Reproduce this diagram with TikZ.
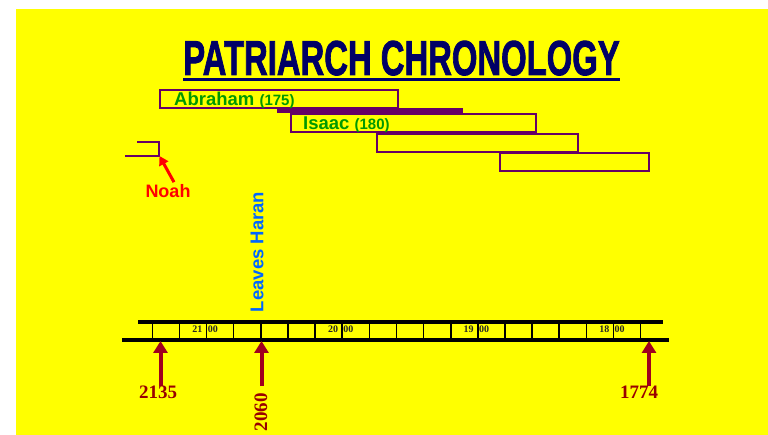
\documentclass[tikz,border=0pt]{standalone}
\usepackage{fontspec}
\setmainfont{Liberation Serif}
\setsansfont{Liberation Sans}
\newfontfamily\titlefont[FakeBold=2]{Liberation Sans Bold}
\usetikzlibrary{arrows.meta}
\definecolor{bgyellow}{RGB}{255,255,0}
\definecolor{navyt}{RGB}{0,0,102}
\definecolor{boxpurple}{RGB}{102,0,102}
\definecolor{namegreen}{RGB}{0,153,0}
\definecolor{arrowred}{RGB}{160,0,30}
\definecolor{yearred}{RGB}{153,0,0}
\definecolor{haranblue}{RGB}{0,102,255}
\tikzset{
  lifebox/.style={draw=boxpurple, line width=2.5pt},
  pname/.style={text=namegreen, font=\sffamily\bfseries\fontsize{18.5}{18.5}\selectfont, inner sep=0pt, anchor=base west},
  tickline/.style={line width=1.6pt, black},
  barline/.style={line width=4pt, black},
  decade/.style={font=\rmfamily\bfseries\fontsize{10}{10}\selectfont, text=black!85, inner sep=0pt},
  yeararrow/.style={arrowred, line width=4pt, -{Triangle[width=14pt,length=12pt]}},
  yearlbl/.style={font=\rmfamily\bfseries\fontsize{19}{19}\selectfont, text=yearred, inner sep=0pt}
}
\begin{document}
\begin{tikzpicture}[x=1pt,y=-1pt]
\useasboundingbox (0,0) rectangle (768,435);
\fill[bgyellow] (16,9) rectangle (768,435);
% title
\node[inner sep=0pt, anchor=base, text=navyt] (title) at (401.5,75)
  {\scalebox{0.67}[1]{\titlefont\fontsize{49}{49}\selectfont PATRIARCH CHRONOLOGY}};
\draw[navyt, line width=2.5pt] ([yshift=-4.5pt]title.base west) -- ([yshift=-4.5pt]title.base east);
% life boxes
\draw[lifebox] (160,90) rectangle (398,108);
\fill[boxpurple] (277,108) rectangle (463,113.5);
\draw[lifebox] (291,114) rectangle (536,132);
\draw[lifebox] (377,134) rectangle (578,152);
\draw[lifebox] (500,153) rectangle (649,171);
\node[pname] (abraham) at (174,106) {Abraham \fontsize{15}{15}\selectfont(175)};
\node[pname] (isaac) at (303,130) {Isaac \fontsize{15}{15}\selectfont(180)};
% Noah
\draw[boxpurple, line width=2pt] (137,142) -- (159,142) -- (159,156) -- (125,156);
\coordinate (noahend) at (159.5,156);
\node[text=red, font=\sffamily\bfseries\fontsize{18}{18}\selectfont, inner sep=0pt] (noah) at (168,191) {Noah};
\draw[red, line width=3pt, -{Triangle[width=10pt,length=9pt]}] (noah.north) ++(6,-2) coordinate (noaharrow) (noaharrow) -- (noahend);
% Leaves Haran
\node[rotate=90, text=haranblue, font=\sffamily\bfseries\fontsize{18.5}{18.5}\selectfont, inner sep=0pt] (haran) at (257,252) {Leaves Haran};
% timeline
\coordinate (topL) at (138,322); \coordinate (topR) at (663,322);
\coordinate (botL) at (122,340); \coordinate (botR) at (669,340);
\draw[barline] (topL) -- (topR);
\draw[barline] (botL) -- (botR);
\foreach \i in {0,...,18} {
  \draw[tickline] (152.3+27.13*\i,324) -- (152.3+27.13*\i,338);
}
\foreach \i/\c in {2/21,7/20,12/19,17/18} {
  \node[decade, anchor=east] (c\c) at (152.3+27.13*\i-4,329) {\c};
  \node[decade, anchor=west] (z\c) at (152.3+27.13*\i+1,329) {00};
}
% year arrows
\coordinate (t2135) at (160.5,341); \coordinate (s2135) at (160.5,386);
\coordinate (t2060) at (261.5,341); \coordinate (s2060) at (261.5,386);
\coordinate (t1774) at (649,341); \coordinate (s1774) at (649,386);
\draw[yeararrow] (s2135) -- (t2135);
\draw[yeararrow] (s2060) -- (t2060);
\draw[yeararrow] (s1774) -- (t1774);
\node[yearlbl] (y2135) at (158,392) {2135};
\node[yearlbl] (y1774) at (639,392) {1774};
\node[yearlbl, rotate=90] (y2060) at (261,412) {2060};
\end{tikzpicture}
\end{document}
